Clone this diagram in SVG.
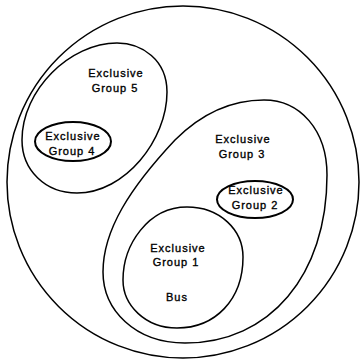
<svg xmlns="http://www.w3.org/2000/svg" width="362" height="360" viewBox="0 0 362 360">
<style>
.b{fill:none;stroke:#000;stroke-width:1.5}
.e{fill:none;stroke:#000;stroke-width:2}
text{font-family:"Liberation Sans",Arial,sans-serif;font-size:11px;letter-spacing:1px;text-anchor:middle;fill:#000;stroke:#000;stroke-width:0.35}
</style>
<rect width="362" height="360" fill="#fff"/>
<g id="universe"><circle class="b" cx="183" cy="182" r="176"/></g>
<g id="group5">
<path class="b" d="M117,43 C142,43 167,60 167,92 C167,140 125,193 77,193 C45,193 22,170 22,140 C22,90 70,43 117,43 Z"/>
<text x="116" y="77">Exclusive</text><text x="115" y="92">Group 5</text>
</g>
<g id="group4">
<ellipse class="e" cx="73" cy="141.5" rx="38" ry="19.5"/>
<text x="73" y="140">Exclusive</text><text x="72" y="155">Group 4</text>
</g>
<g id="group3">
<path class="b" d="M264,100 C300,100 327,130 327,175 C327,275 270,343 185,343 C135,343 103,310 103,272 C103,230 130,188 175,140 C205,110 235,100 264,100 Z"/>
<text x="243" y="143">Exclusive</text><text x="242" y="158">Group 3</text>
</g>
<g id="group2">
<ellipse class="e" cx="255" cy="199.5" rx="38" ry="18.5"/>
<text x="256" y="194">Exclusive</text><text x="255" y="209">Group 2</text>
</g>
<g id="group1">
<path class="b" d="M187,207 C220,207 243,230 243,257 C243,300 215,328 177,328 C145,328 123,305 123,280 C123,245 148,207 187,207 Z"/>
<text x="178" y="252">Exclusive</text><text x="176" y="266">Group 1</text><text x="177" y="301">Bus</text>
</g>
<g id="connectors"></g>
</svg>
